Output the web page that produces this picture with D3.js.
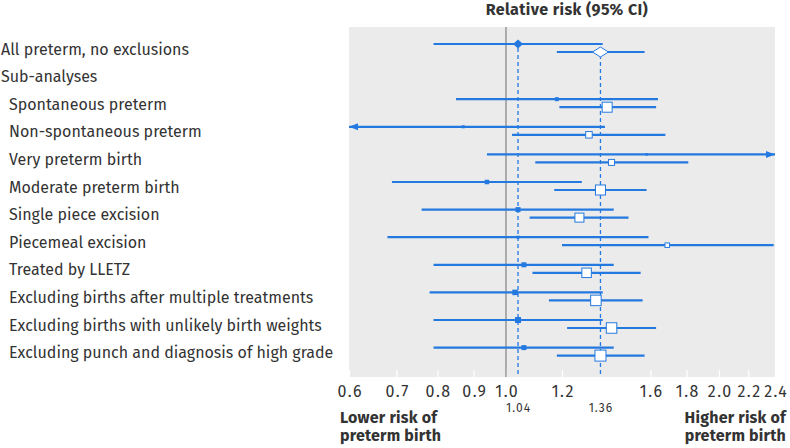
<!DOCTYPE html>
<html>
<head>
<meta charset="utf-8">
<script src="https://cdn.jsdelivr.net/npm/d3@7"></script>
<style>
  html, body { margin: 0; padding: 0; background: #fff; }
  svg { display: block; }
  text { font-family: "Fira Sans", "Noto Sans", "Open Sans", sans-serif; fill: #333; }
</style>
</head>
<body>
<svg id="chart" width="790" height="448"></svg>
<script>
// ---- data ----
const labels = [
  "All preterm, no exclusions",
  "Sub-analyses",
  "Spontaneous preterm",
  "Non-spontaneous preterm",
  "Very preterm birth",
  "Moderate preterm birth",
  "Single piece excision",
  "Piecemeal excision",
  "Treated by LLETZ",
  "Excluding births after multiple treatments",
  "Excluding births with unlikely birth weights",
  "Excluding punch and diagnosis of high grade"
];
const indented = [false, false, true, true, true, true, true, true, true, true, true, true];

// series 1 (filled markers)
const s1Est   = [1.04, null, 1.18, 0.87, 1.58, 0.94, 1.04, 1.04, 1.06, 1.03, 1.04, 1.06];
const s1Lower = [0.79, null, 0.85, 0.50, 0.94, 0.69, 0.76, 0.68, 0.79, 0.78, 0.79, 0.79];
const s1Upper = [1.37, null, 1.64, 1.38, 3.00, 1.28, 1.42, 1.59, 1.42, 1.37, 1.37, 1.42];
const s1Weight = [10, null, 4, 3, 2.5, 4.5, 5, 3, 5, 5.5, 6, 5];

// series 2 (open markers)
const s2Est   = [1.36, null, 1.39, 1.31, 1.41, 1.36, 1.27, 1.69, 1.30, 1.34, 1.41, 1.36];
const s2Lower = [1.18, null, 1.19, 1.02, 1.10, 1.17, 1.08, 1.20, 1.09, 1.15, 1.22, 1.18];
const s2Upper = [1.57, null, 1.63, 1.68, 1.81, 1.58, 1.49, 2.39, 1.55, 1.56, 1.63, 1.57];
const s2Weight = [16, null, 10, 6.5, 6, 10, 9, 4.5, 9.5, 10.5, 10.5, 11];

const pooled = [1.04, 1.36];
const pooledLabels = ["1.04", "1.36"];
const tickValues = [0.6, 0.7, 0.8, 0.9, 1.0, 1.2, 1.6, 1.8, 2.0, 2.2, 2.4];
const titleText = "Relative risk (95% CI)";
const lowerText = ["Lower risk of", "preterm birth"];
const higherText = ["Higher risk of", "preterm birth"];

// ---- chart ----
const svg = d3.select("#chart");
const blue = "#2479e0";
const panel = {x0: 349, x1: 775, y0: 27, y1: 377};

const x = d3.scaleLog().domain([0.6, 2.4]).range([panel.x0, panel.x1]);
const y = d3.scalePoint().domain(d3.range(labels.length)).range([48, 351.6]);
const off = 4;

svg.append("rect")
  .attr("x", panel.x0).attr("y", panel.y0)
  .attr("width", panel.x1 - panel.x0).attr("height", panel.y1 - panel.y0)
  .attr("fill", "#ebebeb");

// axis
const axis = d3.axisBottom(x).tickValues(tickValues).tickFormat(d3.format(".1f"))
  .tickSizeInner(-7).tickSizeOuter(0).tickPadding(9);
const gAxis = svg.append("g").attr("transform", `translate(0,${panel.y1})`).call(axis);
gAxis.select(".domain").remove();
gAxis.selectAll(".tick line").attr("stroke", "#fff").attr("stroke-width", 1.2);
gAxis.selectAll(".tick text").attr("fill", "#333")
  .attr("dx", "0.75px")
  .style("font-size", "16px").style("letter-spacing", "1.5px")
  .style("font-family", '"Fira Sans", "Noto Sans", sans-serif');

// reference line at 1
svg.append("line")
  .attr("x1", x(1)).attr("x2", x(1)).attr("y1", panel.y0).attr("y2", panel.y1)
  .attr("stroke", "#8a8a8a").attr("stroke-width", 1.3);

// pooled dashed lines
svg.selectAll("line.pooled").data(pooled).join("line")
  .attr("class", "pooled")
  .attr("x1", d => x(d)).attr("x2", d => x(d))
  .attr("y1", y(0)).attr("y2", panel.y1)
  .attr("stroke", blue).attr("stroke-width", 1.3).attr("stroke-dasharray", "4,3");

svg.selectAll("text.pooledLbl").data(pooled).join("text")
  .attr("class", "pooledLbl")
  .attr("x", d => x(d) + 0.5).attr("y", 412)
  .attr("text-anchor", "middle").style("font-size", "12px").style("letter-spacing", "1px")
  .text((d, i) => pooledLabels[i]);

const xmin = x.domain()[0], xmax = x.domain()[1];
function clampX(v) { return x(Math.max(xmin, Math.min(xmax, v))); }

function drawSeries(est, lo, hi, wt, dy, filled) {
  const rows = d3.range(labels.length).filter(i => est[i] != null);
  const g = svg.append("g");
  g.selectAll("line").data(rows).join("line")
    .attr("x1", i => clampX(lo[i])).attr("x2", i => clampX(hi[i]))
    .attr("y1", i => y(i) + dy).attr("y2", i => y(i) + dy)
    .attr("stroke", blue).attr("stroke-width", 2.2);
  // arrows for out-of-range
  rows.forEach(i => {
    const yy = y(i) + dy;
    if (lo[i] < xmin) {
      const ax = x(xmin);
      g.append("path").attr("d", `M${ax},${yy} L${ax + 9},${yy - 3.5} L${ax + 9},${yy + 3.5} Z`).attr("fill", blue);
    }
    if (hi[i] > xmax) {
      const ax = x(xmax);
      g.append("path").attr("d", `M${ax},${yy} L${ax - 9},${yy - 3.5} L${ax - 9},${yy + 3.5} Z`).attr("fill", blue);
    }
  });
  rows.forEach(i => {
    const cx = x(est[i]), cy = y(i) + dy, s = wt[i];
    if (i === 0) {
      const h = filled ? s * 0.9 : s * 0.62;
      g.append("path")
        .attr("d", `M${cx - s / 2},${cy} L${cx},${cy - h / 2} L${cx + s / 2},${cy} L${cx},${cy + h / 2} Z`)
        .attr("fill", filled ? blue : "#fff").attr("stroke", filled ? "none" : blue).attr("stroke-width", 1);
    } else {
      g.append("rect")
        .attr("x", cx - s / 2).attr("y", cy - s / 2).attr("width", s).attr("height", s)
        .attr("fill", filled ? blue : "#fff").attr("stroke", filled ? "none" : blue)
        .attr("stroke-width", 1);
    }
  });
}
drawSeries(s1Est, s1Lower, s1Upper, s1Weight, -off, true);
drawSeries(s2Est, s2Lower, s2Upper, s2Weight, off, false);

// row labels
svg.selectAll("text.rowLbl").data(labels).join("text")
  .attr("class", "rowLbl")
  .attr("x", (d, i) => indented[i] ? 9 : 1)
  .attr("y", (d, i) => y(i) + 1)
  .attr("dy", "0.35em")
  .style("font-size", "16px")
  .text(d => d);

// title
svg.append("text").attr("x", 567).attr("y", 15).attr("text-anchor", "middle")
  .style("font-size", "16px").style("letter-spacing", "0.4px").style("font-weight", "bold").text(titleText);

// bottom annotations
svg.append("text").attr("x", 340).attr("y", 423).style("font-size", "16px").style("font-weight", "bold")
  .style("letter-spacing", "0.2px")
  .selectAll("tspan").data(lowerText).join("tspan")
  .attr("x", 340).attr("dy", (d, i) => i ? 18 : 0).text(d => d);
svg.append("text").attr("x", 786).attr("y", 423).attr("text-anchor", "end")
  .style("font-size", "16px").style("font-weight", "bold").style("letter-spacing", "0.2px")
  .selectAll("tspan").data(higherText).join("tspan")
  .attr("x", 786).attr("dy", (d, i) => i ? 18 : 0).text(d => d);
</script>
</body>
</html>
